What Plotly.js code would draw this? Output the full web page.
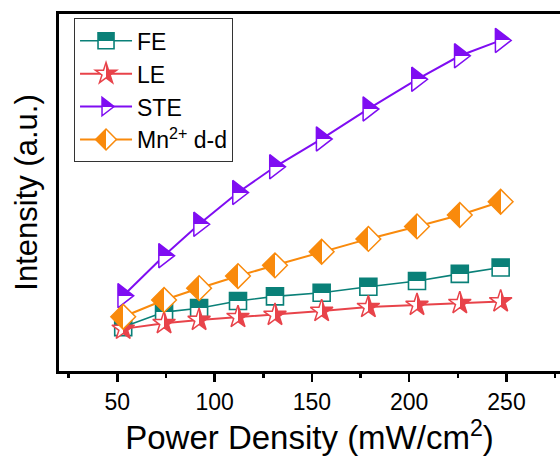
<!DOCTYPE html>
<html><head><meta charset="utf-8">
<script src="https://cdn.plot.ly/plotly-3.0.1.min.js"></script>
<style>html,body{margin:0;padding:0;background:#fff}</style>
</head><body><div id="chart" style="width:560px;height:457px"></div>
<script>
const powerDensity = [53, 74, 92, 112, 131, 155, 179, 204, 226, 247];
const feIntensity  = [12.3, 16.5, 17.6, 19.6, 20.9, 21.9, 23.6, 25.2, 27.2, 29.0];
const leIntensity  = [11.8, 13.4, 14.3, 15.1, 15.7, 16.8, 17.9, 18.5, 19.0, 19.5];
const steIntensity = [21.1, 32.3, 41.1, 50.0, 57.2, 65.0, 73.4, 81.7, 88.3, 92.6];
const mnIntensity  = [15.2, 19.9, 23.2, 26.6, 29.6, 33.4, 37.0, 40.5, 43.7, 47.4];
const seriesNames = ['FE', 'LE', 'STE', 'Mn<sup>2+</sup> d-d'];
const xTickVals = [50, 100, 150, 200, 250];
const xTickText = ['50', '100', '150', '200', '250'];

const FONT = 'Arial, "Liberation Sans", sans-serif';
const teal = '#0a8078', red = '#e8434a', purple = '#7f0df2', orange = '#f98a0c';

const traces = [
  {x: powerDensity, y: feIntensity, name: seriesNames[0], mode: 'lines+markers',
   line: {color: teal, width: 1.6},
   marker: {symbol: 'square', size: 17, color: teal, line: {color: teal, width: 1.6},
            gradient: {type: 'vertical', color: '#ffffff'}}},
  {x: powerDensity, y: leIntensity, name: seriesNames[1], mode: 'lines+markers',
   line: {color: red, width: 2},
   marker: {symbol: 'star', size: 17, color: '#ffffff', line: {color: red, width: 1.5},
            gradient: {type: 'horizontal', color: red}}},
  {x: powerDensity, y: steIntensity, name: seriesNames[2], mode: 'lines+markers',
   line: {color: purple, width: 2},
   marker: {symbol: 'triangle-right', size: 21, color: purple, line: {color: purple, width: 1.5},
            gradient: {type: 'vertical', color: '#ffffff'}}},
  {x: powerDensity, y: mnIntensity, name: seriesNames[3], mode: 'lines+markers',
   line: {color: orange, width: 2},
   marker: {symbol: 'diamond', size: 19, color: orange, line: {color: orange, width: 1.5},
            gradient: {type: 'horizontal', color: '#ffffff'}}}
];

const layout = {
  width: 560, height: 457,
  margin: {l: 59, r: 0, t: 14, b: 86},
  paper_bgcolor: '#fff', plot_bgcolor: '#fff',
  font: {family: FONT, color: '#000'},
  showlegend: true,
  legend: {x: 0.03, y: 0.988, xanchor: 'left', yanchor: 'top',
           bgcolor: 'rgba(255,255,255,0)', bordercolor: '#333', borderwidth: 1,
           itemwidth: 52,
           font: {family: FONT, size: 23, color: '#000'}, tracegroupgap: 0},
  xaxis: {range: [20, 277.5], showgrid: false, zeroline: false,
          showline: true, linecolor: '#000', linewidth: 3, mirror: true,
          ticks: 'outside', ticklen: 8, tickwidth: 2.5, tickcolor: '#000',
          tickvals: xTickVals, ticktext: xTickText,
          minor: {dtick: 25, tick0: 0, ticks: 'outside', ticklen: 4, tickwidth: 2.5, tickcolor: '#000'},
          tickfont: {family: FONT, size: 23, color: '#000'},
          title: {text: 'Power Density (mW/cm<sup>2</sup>)', font: {family: FONT, size: 33, color: '#000'}, standoff: 12}},
  yaxis: {range: [0, 100], showgrid: false, zeroline: false,
          showline: true, linecolor: '#000', linewidth: 3, mirror: false,
          ticks: '', showticklabels: false,
          title: {text: 'Intensity (a.u.)', font: {family: FONT, size: 31, color: '#000'}, standoff: 10}}
};

function hardenGradients() {
  document.querySelectorAll('linearGradient').forEach(function (g) {
    if (g.getAttribute('data-hard')) return;
    const stops = g.querySelectorAll('stop');
    if (stops.length !== 2) return;
    const a = stops[0], b = stops[1];
    const a2 = a.cloneNode(true), b2 = b.cloneNode(true);
    a2.setAttribute('offset', '50%');
    b2.setAttribute('offset', '50%');
    g.insertBefore(a2, b);
    g.insertBefore(b2, b);
    g.setAttribute('data-hard', '1');
  });
}

const gd = document.getElementById('chart');
Plotly.newPlot(gd, traces, layout, {staticPlot: true, displayModeBar: false}).then(function () {
  hardenGradients();
  gd.on && gd.on('plotly_afterplot', hardenGradients);
});
</script></body></html>
